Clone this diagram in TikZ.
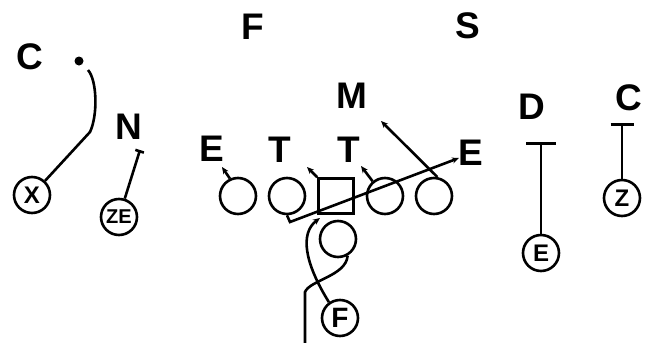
\documentclass[tikz,border=0pt]{standalone}
\usepackage{fontspec}
\setmainfont{Liberation Sans}
\usetikzlibrary{arrows.meta,positioning}

\begin{document}
\begin{tikzpicture}[x=1pt,y=-1pt,>={Stealth[length=7pt,width=6pt]},
  line width=2.6pt,node distance=49pt,
  player/.style={circle,draw,minimum size=36pt,inner sep=0pt},
  snapper/.style={rectangle,draw,minimum size=35pt,inner sep=0pt},
  skill/.style={circle,draw,minimum size=36pt,inner sep=0pt,
    font=\fontsize{24}{24}\selectfont\bfseries},
  defender/.style={inner sep=0pt,font=\fontsize{37}{37}\selectfont\bfseries},
  tee/.style={-{Bar[width=#1]}},
  dot/.style={circle,fill,minimum size=9pt,inner sep=0pt}]
		\useasboundingbox (0,0) rectangle (654,343);

		% defense
		\node[defender] (cbl) at (30,57) {C};
		\node[dot] (cdot) at (79,61) {};
		\node[defender] (nickel) at (129,127) {N};
		\node[defender] (fs) at (253,27) {F};
		\node[defender] (ss) at (468,26) {S};
		\node[defender] (mike) at (352,96) {M};
		\node[defender] (del) at (212,149) {E};
		\node[defender] (dtl) at (280,150) {T};
		\node[defender] (dtr) at (349,150) {T};
		\node[defender] (der) at (471,153) {E};
		\node[defender] (dime) at (532,107) {D};
		\node[defender] (cbr) at (629,98) {C};

		% offense
		\node[skill] (x) at (32,195) {X};
		\node[skill,font=\fontsize{20}{20}\selectfont\bfseries] (ze) at (119,217) {ZE};
		\node[player] (lt) at (238,196) {};
		\node[player] (lg) [right of=lt] {};
		\node[snapper] (c) [right of=lg] {};
		\node[player] (rg) [right of=c] {};
		\node[player] (rt) [right of=rg] {};
		\node[player] (qb) at (338,239) {};
		\node[skill,font=\fontsize{28}{28}\selectfont\bfseries] (fb) at (340,318) {F};
		\node[skill] (e) at (541,253) {E};
		\node[skill] (z) at (622,198) {Z};

		\coordinate (xturn) at (90,132);
		\coordinate (xend) at (88,70);
		\coordinate (nend) at (140,150);
		\coordinate (lthook) at (222,167);
		\coordinate (chook) at (307,167);
		\coordinate (rghook) at (361,166);
		\coordinate (mend) at (381,121);
		\coordinate (lgturn) at (290,222);
		\coordinate (sealend) at (459,158);
		\coordinate (fend) at (320,218);
		\coordinate (qbturn) at (305,292);
		\coordinate (qbend) at (305,343);
		\coordinate (dend) at (541,142);
		\coordinate (cend) at (622,123);

		% routes
		\draw (x) -- (xturn) .. controls (98,115) and (97,80) .. (xend);
		\draw[tee=9pt] (ze) -- (nend);
		\draw[->] (lt.115) -- (lthook);
		\draw[->] (c.north west) -- (chook);
		\draw[->] (rg.130) -- (rghook);
		\draw[->] (rt.80) -- (mend);
		\draw[->] (lg.south) -- (lgturn) -- (sealend);
		\draw[->] (fb.125) .. controls (304,262) and (300,233) .. (fend);
		\draw (qb.-60) .. controls (346,276) and (310,280) .. (qbturn) -- (qbend);
		\draw[tee=30pt] (e) -- (dend);
		\draw[tee=23pt] (z) -- (cend);

\end{tikzpicture}
\end{document}
